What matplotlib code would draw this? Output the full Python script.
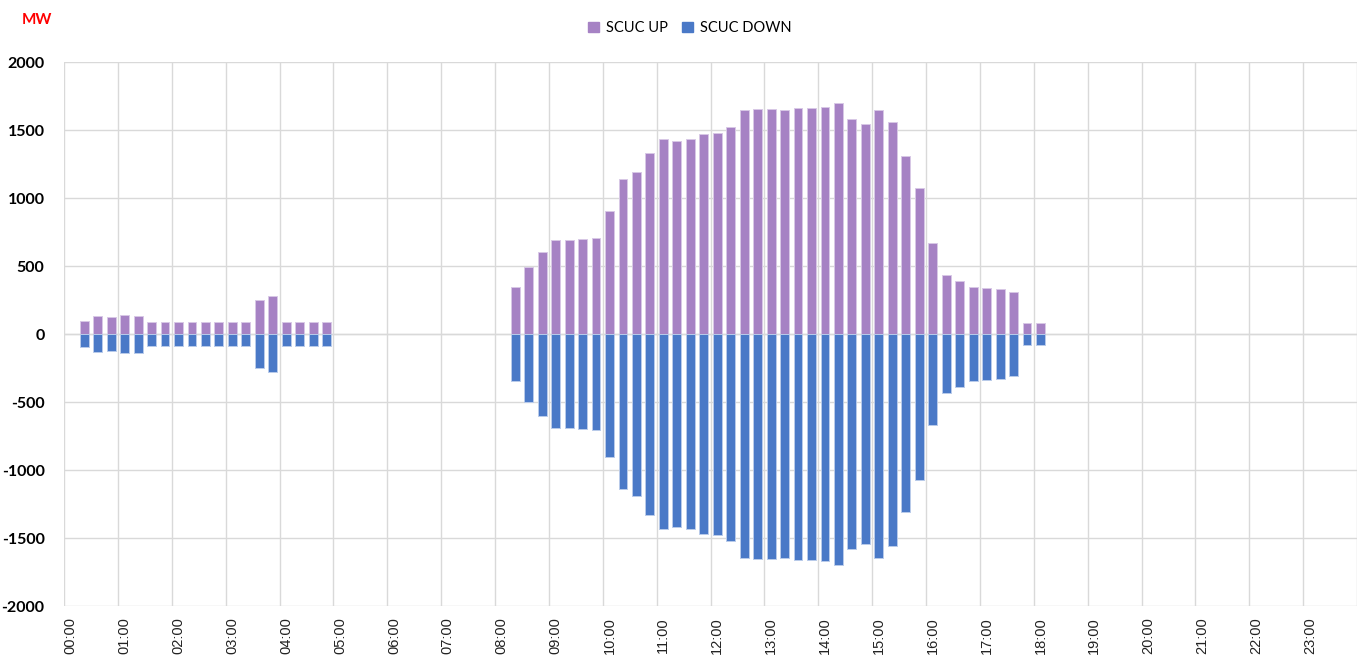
import matplotlib
matplotlib.use("Agg")
import matplotlib.pyplot as plt
import numpy as np
from matplotlib.patches import Patch

# 15-minute slots over one day
slots = [f"{h:02d}:{m:02d}" for h in range(24) for m in (0, 15, 30, 45)]
hour_labels = [f"{h:02d}:00" for h in range(24)]

scuc_up = [
    0, 95, 130, 125, 138, 135, 87, 87, 87, 87, 87, 87, 87, 87, 250, 280,
    87, 87, 87, 87, 0, 0, 0, 0, 0, 0, 0, 0, 0, 0, 0, 0,
    0, 343, 495, 605, 693, 690, 700, 708, 906, 1141, 1193, 1328, 1435, 1418, 1433, 1467,
    1479, 1521, 1646, 1656, 1653, 1650, 1661, 1661, 1669, 1696, 1581, 1542, 1645, 1561, 1311, 1071,
    667, 434, 387, 346, 341, 331, 306, 83, 81, 0, 0, 0, 0, 0, 0, 0,
    0, 0, 0, 0, 0, 0, 0, 0, 0, 0, 0, 0, 0, 0, 0, 0,
]
scuc_down = [
    0, -97, -132, -127, -140, -137, -88, -88, -88, -88, -88, -88, -88, -88, -252, -278,
    -88, -88, -88, -88, 0, 0, 0, 0, 0, 0, 0, 0, 0, 0, 0, 0,
    0, -343, -497, -605, -693, -690, -700, -708, -906, -1141, -1193, -1328, -1435, -1418, -1433, -1467,
    -1479, -1521, -1646, -1656, -1653, -1650, -1661, -1661, -1669, -1700, -1581, -1542, -1645, -1561, -1311, -1071,
    -667, -434, -387, -346, -341, -331, -306, -83, -81, 0, 0, 0, 0, 0, 0, 0,
    0, 0, 0, 0, 0, 0, 0, 0, 0, 0, 0, 0, 0, 0, 0, 0,
]

UP_COLOR = "#A682C4"
DOWN_COLOR = "#4A79C7"
GRID = "#D9D9D9"

fig = plt.figure(figsize=(13.61, 6.60), dpi=100)
ax = fig.add_axes([64 / 1361, 1 - 606 / 660, (1357 - 64) / 1361, (606 - 62) / 660])

x = np.arange(len(slots))
up = np.array(scuc_up, dtype=float)
down = np.array(scuc_down, dtype=float)
mask_up = up != 0
mask_down = down != 0

ax.bar(x[mask_up], up[mask_up], width=0.66, color=UP_COLOR,
       edgecolor="#D8C8E6", linewidth=0.7, zorder=3)
ax.bar(x[mask_down], down[mask_down], width=0.66, color=DOWN_COLOR,
       edgecolor="#B9CBEA", linewidth=0.7, zorder=3)

ax.set_xlim(-0.5, len(slots) - 0.5)
ax.set_ylim(-2000, 2000)
ax.set_yticks(np.arange(-2000, 2001, 500))
ax.set_yticklabels([str(v) for v in range(-2000, 2001, 500)],
                   fontsize=11.5, fontweight="bold", family="Lato")

ax.set_xticks(x[::4])
ax.set_xticklabels(hour_labels, rotation=90, fontsize=10.5,
                   family="Liberation Sans", color="#222222")
ax.set_xticks(np.arange(-0.5, len(slots), 4), minor=True)
ax.tick_params(axis="both", which="both", length=0)
ax.tick_params(axis="x", pad=8)
ax.tick_params(axis="y", pad=14)

ax.grid(axis="y", color=GRID, linewidth=1.0, zorder=0)
ax.grid(axis="x", which="minor", color=GRID, linewidth=1.0, zorder=0)
ax.grid(axis="x", which="major", visible=False)
for s in ax.spines.values():
    s.set_visible(False)
ax.axhline(0, color=GRID, linewidth=1.0, zorder=2)

fig.text(37 / 1361, 1 - 20 / 660, "MW", color="red", fontsize=11,
         fontweight="bold", family="Lato", ha="center", va="center")

handles = [Patch(color=UP_COLOR, label="SCUC UP"),
           Patch(color=DOWN_COLOR, label="SCUC DOWN")]
fig.legend(handles=handles, loc="center", bbox_to_anchor=(0.507, 1 - 28 / 660),
           ncol=2, frameon=False, prop={"family": "Lato", "size": 10.5},
           handlelength=0.7, handleheight=0.7, handletextpad=0.5, columnspacing=1.0)

fig.savefig("out.png", dpi=100)
